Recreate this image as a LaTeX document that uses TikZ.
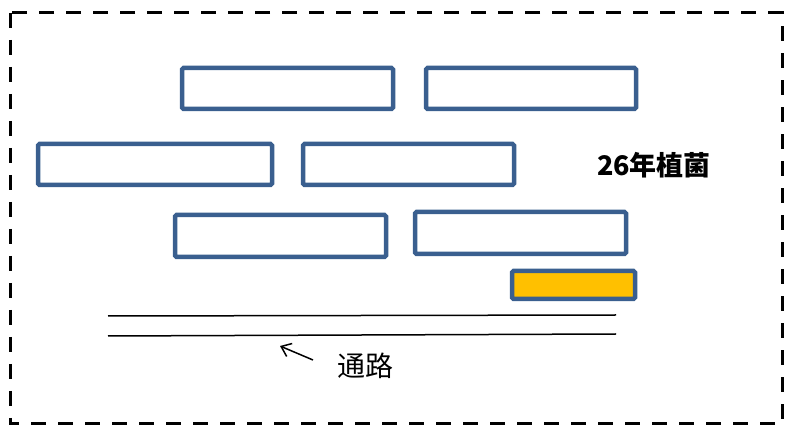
\documentclass[tikz,border=0pt]{standalone}
\usepackage{fontspec}
\newfontfamily\cjk{Noto Sans CJK SC}
\usetikzlibrary{arrows.meta}
\definecolor{boxblue}{HTML}{3A5F8F}
\definecolor{gold}{HTML}{FFC000}
\tikzset{
  bed/.style={draw=boxblue, line width=4.5pt, rounded corners=1.5pt},
  road/.style={draw=black, line width=1.5pt},
  frame/.style={draw=black, line width=3pt, dash pattern=on 15pt off 12pt},
}
\begin{document}
\begin{tikzpicture}[x=1pt,y=-1pt]
\useasboundingbox (0,0) rectangle (785,427);
\draw[frame] (10,13) rectangle (782,424);
\node[bed, minimum width=211pt, minimum height=41pt, inner sep=0pt] (b1) at (287.5,88.5) {};
\node[bed, minimum width=210pt, minimum height=41pt, inner sep=0pt] (b2) at (531,88.5) {};
\node[bed, minimum width=234pt, minimum height=41pt, inner sep=0pt] (b3) at (155,164.5) {};
\node[bed, minimum width=211pt, minimum height=41pt, inner sep=0pt] (b4) at (408.5,164.5) {};
\node[bed, minimum width=211pt, minimum height=42pt, inner sep=0pt] (b5) at (280.5,236) {};
\node[bed, minimum width=211pt, minimum height=42pt, inner sep=0pt] (b6) at (520.5,233) {};
\node[bed, fill=gold, minimum width=123pt, minimum height=28pt, inner sep=0pt] (b7) at (573.5,285) {};
\coordinate (r1a) at (108,316); \coordinate (r1b) at (616,315);
\coordinate (r2a) at (108,336); \coordinate (r2b) at (616,334);
\draw[road] (r1a) -- (r1b);
\draw[road] (r2a) -- (r2b);
\node[font=\cjk\bfseries\fontsize{27}{30}\selectfont, inner sep=0pt] (t1) at (654,165) {26年植菌};
\node[font=\cjk\fontsize{28}{30}\selectfont, inner sep=0pt] (t2) at (365,366) {通路};
\coordinate (a1) at (313,360); \coordinate (a2) at (280,346);
\draw[line width=1.5pt, -{Straight Barb[length=9pt,width=14pt]}] (a1) -- (a2);
\end{tikzpicture}
\end{document}
